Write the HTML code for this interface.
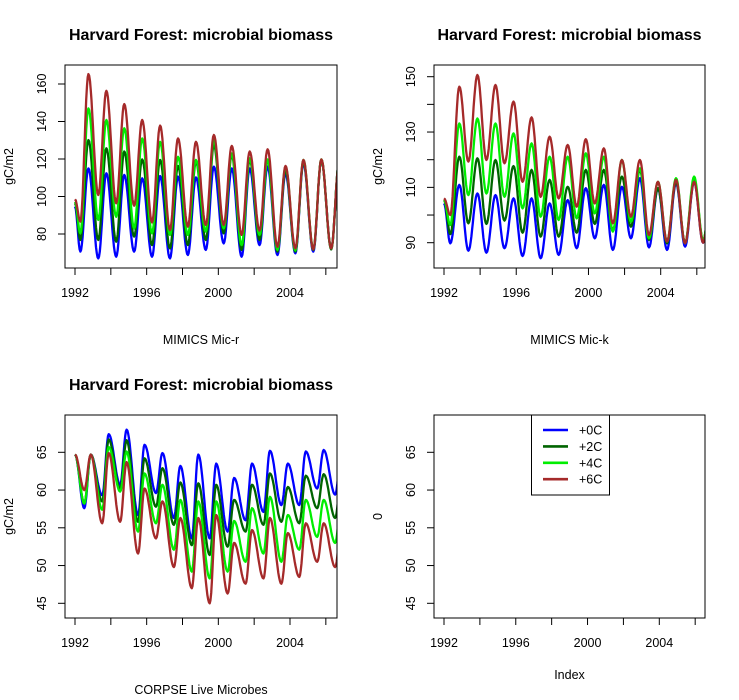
<!DOCTYPE html>
<html><head><meta charset="utf-8"><style>
html,body{margin:0;padding:0;background:#fff}
svg{display:block;font-family:"Liberation Sans",Arial,sans-serif}
</style></head><body>
<svg id="chart" width="739" height="700" viewBox="0 0 739 700"></svg>
<script>
// ---- data: start value, annual troughs 1992..2006, annual peaks 1992..2006
const years = [1992,1993,1994,1995,1996,1997,1998,1999,2000,2001,2002,2003,2004,2005,2006];
const seriesNames = ["+0C","+2C","+4C","+6C"];
const seriesColors = ["#0000ff","#006400","#00ee00","#a52a2a"];
const xTickYears = [1992,1994,1996,1998,2000,2002,2004,2006];
const xTickLabels = ["1992","","1996","","2000","","2004",""];

const p1Start = [94.6,96.4,97.2,98.5];
const p1Blue_tr = [70.6,67,67.9,70.6,67.9,67,68.8,71.5,75,67.9,74.1,68.8,69.7,70.6,72.3];
const p1Blue_pk = [115,112.4,111.5,109.7,110.9,110.6,110.2,115.9,115,115,116,112.4,117.7,119.5,119];
const p1Dk_tr = [76.8,76.8,75.9,78.6,74.1,72.3,74.1,76.8,80.4,71.5,76.8,70.6,70.6,71.5,71.8];
const p1Dk_pk = [130.1,125.7,124,119.8,119.5,116.3,118.6,127.5,122.1,119.5,119.5,114.1,118.6,119.5,119];
const p1Gr_tr = [80.4,87.5,89.2,83,80.4,79.5,79.5,81.3,83,74.1,79.5,71.5,71.2,71.8,72.3];
const p1Gr_pk = [147,140.8,136.4,131,129.2,121.2,119.5,130.1,123,120.4,119.8,115.9,119.5,119.8,119];
const p1Br_tr = [86.6,100.8,96.4,95.1,86.2,82.1,83.9,84.8,84.8,79.5,81.8,73.2,72.3,71.8,72.3];
const p1Br_pk = [165.3,156.4,149.3,140.8,137.8,131,129.2,132.8,127,124,125.2,116.3,119.5,119.8,119];
const p1YTicks = [80,100,120,140,160];

const p2Start = [104.2,105.4,105.4,106];
const p2Blue_tr = [89.8,87.1,86.4,88,85.2,84.4,85.6,88,91.6,87.4,91.6,88.3,87.4,88.6,90];
const p2Blue_pk = [110.9,107.8,107.2,106,106,104.2,105.4,109.7,110.9,110.2,113.3,109.7,111.5,112,112];
const p2Dk_tr = [93.1,97,96.8,98,93.6,92.2,92.2,93.6,96.8,94.6,95.8,91,89.8,89.8,90.7];
const p2Dk_pk = [121.1,120.5,119.9,117.7,116.3,112.7,110.2,116.3,116.3,113.9,116.3,109.7,112,112.7,112];
const p2Gr_tr = [96.4,107.2,107.8,106.6,102.4,99.4,98.2,98.8,100.6,94,97.6,91.6,90.4,89.8,90.7];
const p2Gr_pk = [133.1,134.9,133.1,129.5,125.9,121.1,121.1,122.3,121.1,119.9,116.9,112,113.3,113.9,112];
const p2Br_tr = [100,119.3,119.9,118.7,112,106.6,106,103,104.2,97,99.4,92.8,90.4,89.8,90];
const p2Br_pk = [146.4,150.6,147,141,135.3,128.3,125.3,127.4,124.1,119.9,119.9,112,112.7,112,112];
const p2YTicks = [90,100,110,120,130,140,150];
const p2YLabels = ["90","","110","","130","","150"];

const p3Start = [64.7,64.7,64.7,64.7];
const p3Blue_tr = [57.6,59.3,60.7,56.7,59.6,56.3,53.6,53.6,54.5,56,57.1,58,58,60.2,59.4];
const p3Blue_pk = [64.7,67.4,68,66,64.9,63.2,64.7,63.5,61.6,63.5,65.2,63.5,65.1,65.3,65];
const p3Dk_tr = [58.2,58.5,60.2,55.8,57.8,55.4,52.7,51.4,52.5,54.5,55.4,55.8,55.6,57.6,56.3];
const p3Dk_pk = [64.7,66.7,66.6,64.2,62.9,61,60.9,60.7,58.7,60.7,62.2,60.4,61.9,62.1,62];
const p3Gr_tr = [58.2,57.4,59.8,54.5,55.6,52.1,49.2,48.3,49.2,50.5,51.6,50.5,52.1,53.8,53];
const p3Gr_pk = [64.7,65.7,65.1,62.2,60.7,58.7,58.5,58.5,55.9,57.6,59.1,56.7,58.7,58.7,58.7];
const p3Br_tr = [60,55.6,55.8,51.6,53.6,49.8,47,45,46.3,47.6,48.3,47.6,48.5,50.5,49.8];
const p3Br_pk = [64.7,64.9,63.7,60.2,58.5,56.3,56.3,56.7,53,54.7,56.3,54.3,55.6,55.6,55.6];
const p3YTicks = [45,50,55,60,65];

const NS="http://www.w3.org/2000/svg";
const svg=document.getElementById('chart');
function mk(tag,attrs,parent){const e=document.createElementNS(NS,tag);for(const k in attrs)e.setAttribute(k,attrs[k]);(parent||svg).appendChild(e);return e;}

function makeScale(d0,p0,d1,p1){return v=>p0+(v-d0)*(p1-p0)/(d1-d0);}

function panel(cfg){
  const g=mk('g',{});
  
  
  const X=makeScale(1992,cfg.x1992,2004,cfg.x2004);
  const Y=makeScale(cfg.yA,cfg.pyA,cfg.yB,cfg.pyB);
  const b=cfg.box;
  const cid='clip-'+cfg.name;
  const cp=mk('clipPath',{id:cid},g);
  mk('rect',{x:b[0],y:b[1],width:b[2]-b[0],height:b[3]-b[1]},cp);
  if(cfg.series){
    const lg=mk('g',{'clip-path':'url(#'+cid+')'},g);
    cfg.series.forEach((s,i)=>{
      const ext=[[1992,s.start]];
      for(let k=0;k<years.length;k++){
        ext.push([years[k]+cfg.trPh,s.tr[k]]);
        ext.push([years[k]+cfg.pkPh,s.pk[k]]);
      }
      let pts=[];
      for(let k=0;k<ext.length-1;k++){
        const [t0,v0]=ext[k],[t1,v1]=ext[k+1];
        const n=Math.max(2,Math.round((t1-t0)*24));
        for(let j=0;j<n;j++){const f=j/n;const c=(1-Math.cos(Math.PI*f))/2;
          pts.push(X(t0+(t1-t0)*f).toFixed(1)+','+Y(v0+(v1-v0)*c).toFixed(1));}
      }
      const l=mk('polyline',{points:pts.join(' '),fill:'none',stroke:seriesColors[i],'stroke-width':2.3,'stroke-linejoin':'round'},lg);
      
      
    });
  }
  const r=mk('rect',{x:b[0],y:b[1],width:b[2]-b[0],height:b[3]-b[1],fill:'none',stroke:'#000','stroke-width':1},g);
  
  
  const xa=mk('g',{},g);
  
  
  mk('line',{x1:X(xTickYears[0]),x2:X(xTickYears[xTickYears.length-1]),y1:b[3],y2:b[3],stroke:'#000'},xa);
  xTickYears.forEach((yr,i)=>{
    mk('line',{x1:X(yr),x2:X(yr),y1:b[3],y2:b[3]+7,stroke:'#000'},xa);
    if(xTickLabels[i]){const t=mk('text',{x:X(yr),y:b[3]+29,'text-anchor':'middle','font-size':12.5},xa);t.textContent=xTickLabels[i];}
  });
  const ya=mk('g',{},g);
  
  
  const yt=cfg.yTicks;
  mk('line',{x1:b[0],x2:b[0],y1:Y(yt[0]),y2:Y(yt[yt.length-1]),stroke:'#000'},ya);
  yt.forEach((v,i)=>{
    mk('line',{x1:b[0]-7,x2:b[0],y1:Y(v),y2:Y(v),stroke:'#000'},ya);
    const lab=cfg.yLabels?cfg.yLabels[i]:String(v);
    if(lab){const t=mk('text',{x:0,y:0,'text-anchor':'middle','font-size':12.5,transform:'translate('+(b[0]-19)+','+Y(v)+') rotate(-90)'},ya);t.textContent=lab;}
  });
  if(cfg.title){const t=mk('text',{x:(b[0]+b[2])/2,y:b[1]-25,'text-anchor':'middle','font-size':16,'font-weight':'bold'},g);t.textContent=cfg.title;
    }
  const xl=mk('text',{x:(b[0]+b[2])/2,y:cfg.xlabY,'text-anchor':'middle','font-size':12.5},g);xl.textContent=cfg.xlab;
  
  const yl=mk('text',{x:0,y:0,'text-anchor':'middle','font-size':12.5,transform:'translate('+(b[0]-52)+','+((b[1]+b[3])/2)+') rotate(-90)'},g);yl.textContent=cfg.ylab;
  
  return {g,X,Y};
}

panel({name:'panel-mimics-mic-r',box:[65,65,337,268],x1992:75,x2004:290,yA:80,pyA:234,yB:160,pyB:84,
  trPh:0.3,pkPh:0.75,yTicks:p1YTicks,title:'Harvard Forest: microbial biomass',xlab:'MIMICS Mic-r',xlabY:344,ylab:'gC/m2',
  series:[{start:p1Start[0],tr:p1Blue_tr,pk:p1Blue_pk},{start:p1Start[1],tr:p1Dk_tr,pk:p1Dk_pk},{start:p1Start[2],tr:p1Gr_tr,pk:p1Gr_pk},{start:p1Start[3],tr:p1Br_tr,pk:p1Br_pk}]});
panel({name:'panel-mimics-mic-k',box:[434,65,705,268],x1992:444,x2004:660.7,yA:90,pyA:242.7,yB:150,pyB:76.7,
  trPh:0.35,pkPh:0.85,yTicks:p2YTicks,yLabels:p2YLabels,title:'Harvard Forest: microbial biomass',xlab:'MIMICS Mic-k',xlabY:344,ylab:'gC/m2',
  series:[{start:p2Start[0],tr:p2Blue_tr,pk:p2Blue_pk},{start:p2Start[1],tr:p2Dk_tr,pk:p2Dk_pk},{start:p2Start[2],tr:p2Gr_tr,pk:p2Gr_pk},{start:p2Start[3],tr:p2Br_tr,pk:p2Br_pk}]});
panel({name:'panel-corpse-live-microbes',box:[65,415,337,618],x1992:75,x2004:290,yA:45,pyA:603.3,yB:65,pyB:452.3,
  trPh:0.52,pkPh:0.88,yTicks:p3YTicks,title:'Harvard Forest: microbial biomass',xlab:'CORPSE Live Microbes',xlabY:694,ylab:'gC/m2',
  series:[{start:p3Start[0],tr:p3Blue_tr,pk:p3Blue_pk},{start:p3Start[1],tr:p3Dk_tr,pk:p3Dk_pk},{start:p3Start[2],tr:p3Gr_tr,pk:p3Gr_pk},{start:p3Start[3],tr:p3Br_tr,pk:p3Br_pk}]});
panel({name:'panel-legend',box:[434,415,705,618],x1992:444,x2004:659.3,yA:45,pyA:603.3,yB:65,pyB:452.3,
  trPh:0.5,pkPh:0.9,yTicks:p3YTicks,title:'',xlab:'Index',xlabY:679,ylab:'0'});

const lg=mk('g',{});


mk('rect',{x:531.5,y:415,width:78,height:80,fill:'#fff',stroke:'#000'},lg);
seriesNames.forEach((n,i)=>{
  const e=mk('g',{},lg);
  
  
  const y=430+i*16.4;
  mk('line',{x1:543,x2:568,y1:y,y2:y,stroke:seriesColors[i],'stroke-width':2.6},e);
  const t=mk('text',{x:579,y:y+4.5,'font-size':12.5},e);t.textContent=n;
});
</script>
</body></html>
